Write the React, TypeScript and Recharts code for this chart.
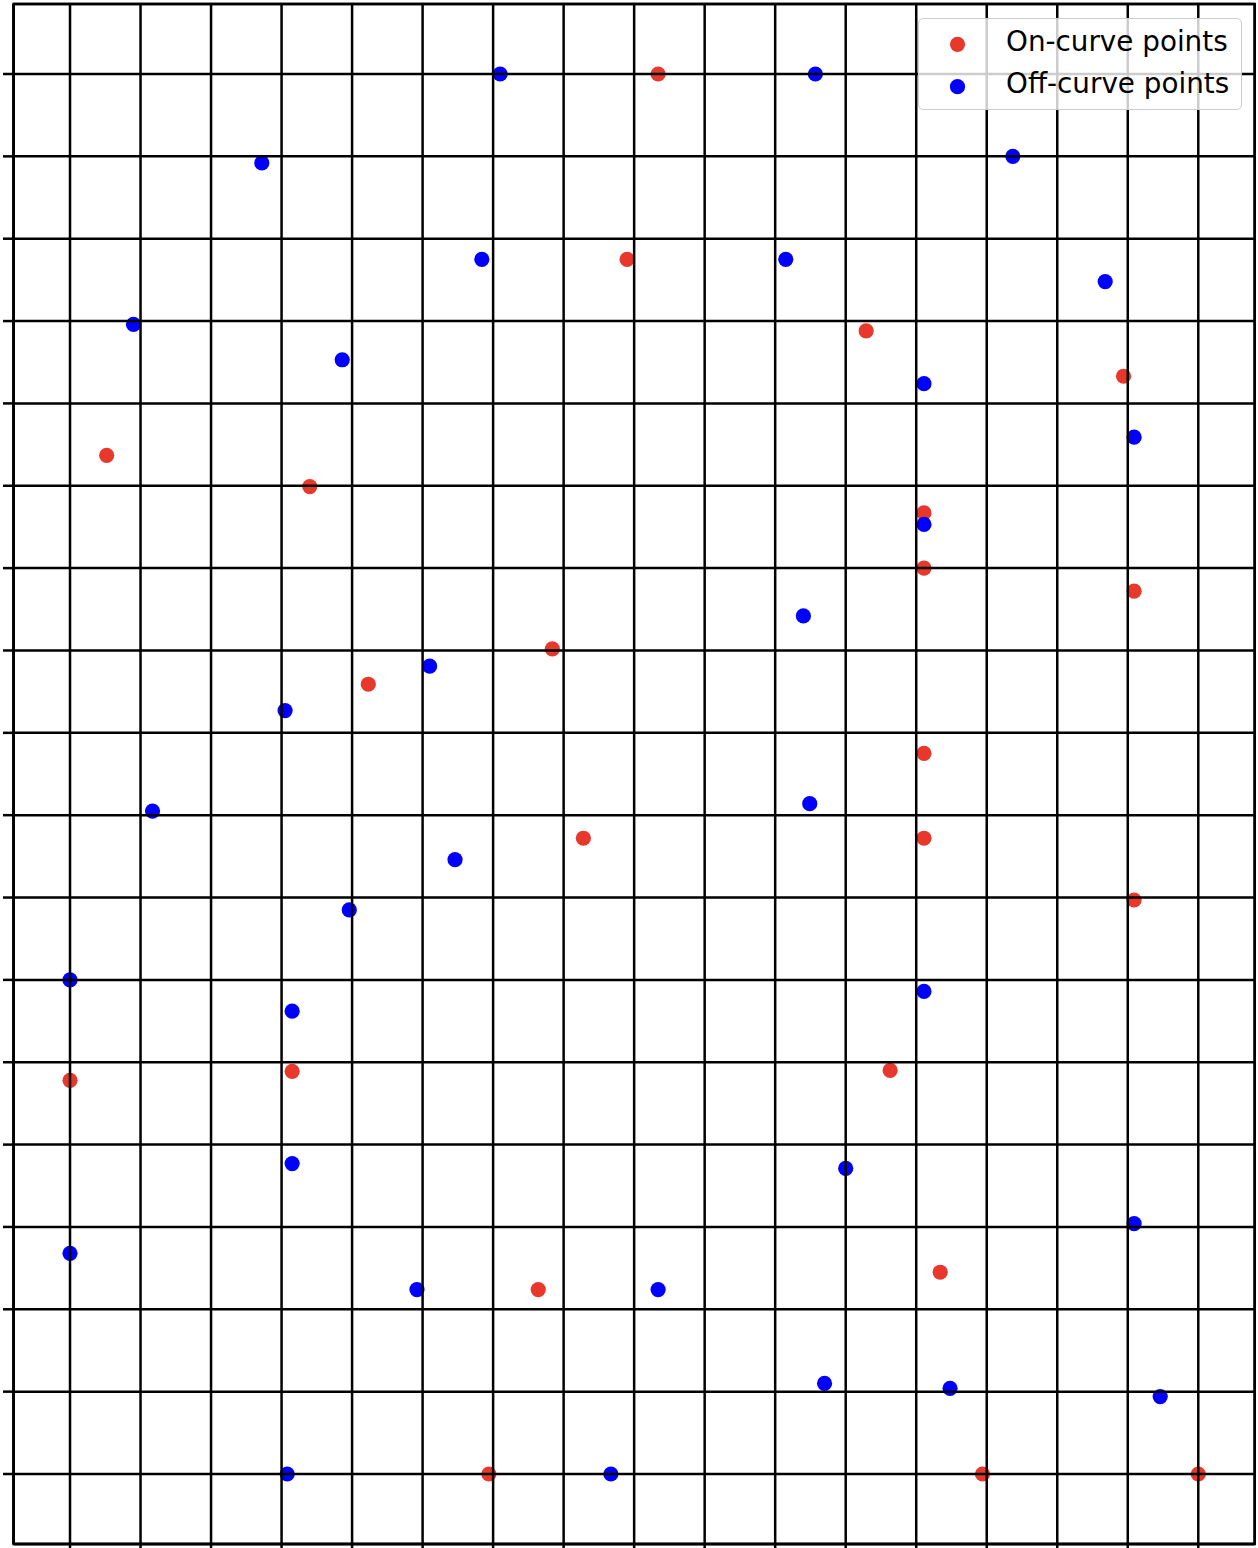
import React from "react";
import {
  ScatterChart,
  Scatter,
  XAxis,
  YAxis,
  CartesianGrid,
  Legend,
  ReferenceArea,
} from "recharts";

// Glyph outline points (font units)
const onCurvePoints = [
  { x: 834, y: 1700 },
  { x: 790, y: 1475 },
  { x: 1129, y: 1388 },
  { x: 1494, y: 1333 },
  { x: 52, y: 1237 },
  { x: 340, y: 1199 },
  { x: 1211, y: 1167 },
  { x: 1211, y: 1100 },
  { x: 1509, y: 1072 },
  { x: 684, y: 1002 },
  { x: 423, y: 959 },
  { x: 1211, y: 875 },
  { x: 728, y: 772 },
  { x: 1211, y: 772 },
  { x: 1509, y: 697 },
  { x: 0, y: 478 },
  { x: 315, y: 489 },
  { x: 1163, y: 490 },
  { x: 1234, y: 245 },
  { x: 664, y: 224 },
  { x: 594, y: 0 },
  { x: 1294, y: 0 },
  { x: 1600, y: 0 },
];

const offCurvePoints = [
  { x: 610, y: 1700 },
  { x: 1057, y: 1700 },
  { x: 272, y: 1592 },
  { x: 1337, y: 1600 },
  { x: 584, y: 1475 },
  { x: 1015, y: 1475 },
  { x: 1468, y: 1448 },
  { x: 90, y: 1396 },
  { x: 386, y: 1353 },
  { x: 1211, y: 1324 },
  { x: 1509, y: 1259 },
  { x: 1211, y: 1153 },
  { x: 1040, y: 1042 },
  { x: 510, y: 981 },
  { x: 305, y: 927 },
  { x: 117, y: 805 },
  { x: 1049, y: 814 },
  { x: 546, y: 746 },
  { x: 396, y: 685 },
  { x: 0, y: 600 },
  { x: 315, y: 562 },
  { x: 1211, y: 586 },
  { x: 315, y: 377 },
  { x: 1100, y: 371 },
  { x: 0, y: 268 },
  { x: 1509, y: 304 },
  { x: 492, y: 224 },
  { x: 834, y: 224 },
  { x: 1070, y: 110 },
  { x: 1248, y: 104 },
  { x: 1546, y: 94 },
  { x: 308, y: 0 },
  { x: 767, y: 0 },
];

const xTicks = [0, 100, 200, 300, 400, 500, 600, 700, 800, 900, 1000, 1100, 1200, 1300, 1400, 1500, 1600];
const yTicks = [0, 100, 200, 300, 400, 500, 600, 700, 800, 900, 1000, 1100, 1200, 1300, 1400, 1500, 1600, 1700];
const xDomain = [-80, 1680];
const yDomain = [-85, 1785];

const seriesNames = ["On-curve points", "Off-curve points"];
const seriesColors = ["#e8382b", "#0000ff"];

const makeDot = (color: string) => (props: any) => {
  if (props.cx == null || props.cy == null) return <g />;
  return <circle cx={props.cx} cy={props.cy} r={7.6} fill={color} />;
};

const emptyTick = () => <g />;

const gridLine = { stroke: "#000", strokeWidth: 2.5 };

const renderLegend = (props: any) => {
  const payload = (props.payload || [])
    .slice()
    .sort((a: any, b: any) => seriesNames.indexOf(a.value) - seriesNames.indexOf(b.value));
  return (
    <div
      style={{
        width: 324,
        height: 92,
        boxSizing: "border-box",
        border: "1px solid #cccccc",
        borderRadius: 5,
        background: "rgba(255,255,255,0.8)",
        position: "relative",
      }}
    >
      <svg width={322} height={90} style={{ position: "absolute", left: 0, top: 0 }}>
        {payload.map((entry: any, i: number) => (
          <g key={i}>
            <circle cx={38.5} cy={25.3 + i * 42.4} r={7.6} fill={entry.color} />
            <text
              x={87}
              y={31.7 + i * 42}
              fontFamily="DejaVu Sans"
              fontSize={27.8}
              fill="#000"
            >
              {entry.value}
            </text>
          </g>
        ))}
      </svg>
    </div>
  );
};

export default function App() {
  return (
    <div style={{ position: "absolute", left: 0, top: 0, background: "#fff" }}>
      <ScatterChart
        width={1258}
        height={1548}
        margin={{ top: 4, right: 3.3, bottom: 3, left: 12.6 }}
      >
        <XAxis
          type="number"
          dataKey="x"
          domain={xDomain}
          ticks={xTicks}
          allowDataOverflow
          height={1}
          tick={emptyTick}
          tickSize={10}
          tickLine={gridLine}
          axisLine={gridLine}
        />
        <YAxis
          type="number"
          dataKey="y"
          domain={yDomain}
          ticks={yTicks}
          allowDataOverflow
          width={1}
          tick={emptyTick}
          tickSize={10.6}
          tickLine={gridLine}
          axisLine={gridLine}
        />
        <Scatter
          name={seriesNames[0]}
          data={onCurvePoints}
          fill={seriesColors[0]}
          shape={makeDot(seriesColors[0])}
          isAnimationActive={false}
        />
        <Scatter
          name={seriesNames[1]}
          data={offCurvePoints}
          fill={seriesColors[1]}
          shape={makeDot(seriesColors[1])}
          isAnimationActive={false}
        />
        <CartesianGrid
          stroke="#000"
          strokeWidth={2.5}
          horizontal={gridLine}
          vertical={gridLine}
          fill="none"
          zIndex={1000}
        />
        <ReferenceArea
          x1={xDomain[0]}
          x2={xDomain[1]}
          y1={yDomain[0]}
          y2={yDomain[1]}
          fill="none"
          fillOpacity={0}
          stroke="#000"
          strokeWidth={2.5}
          ifOverflow="visible"
        />
        <Legend
          layout="vertical"
          align="center"
          verticalAlign="middle"
          wrapperStyle={{ left: 918, top: 18, width: 324 }}
          content={renderLegend}
        />
      </ScatterChart>
    </div>
  );
}
